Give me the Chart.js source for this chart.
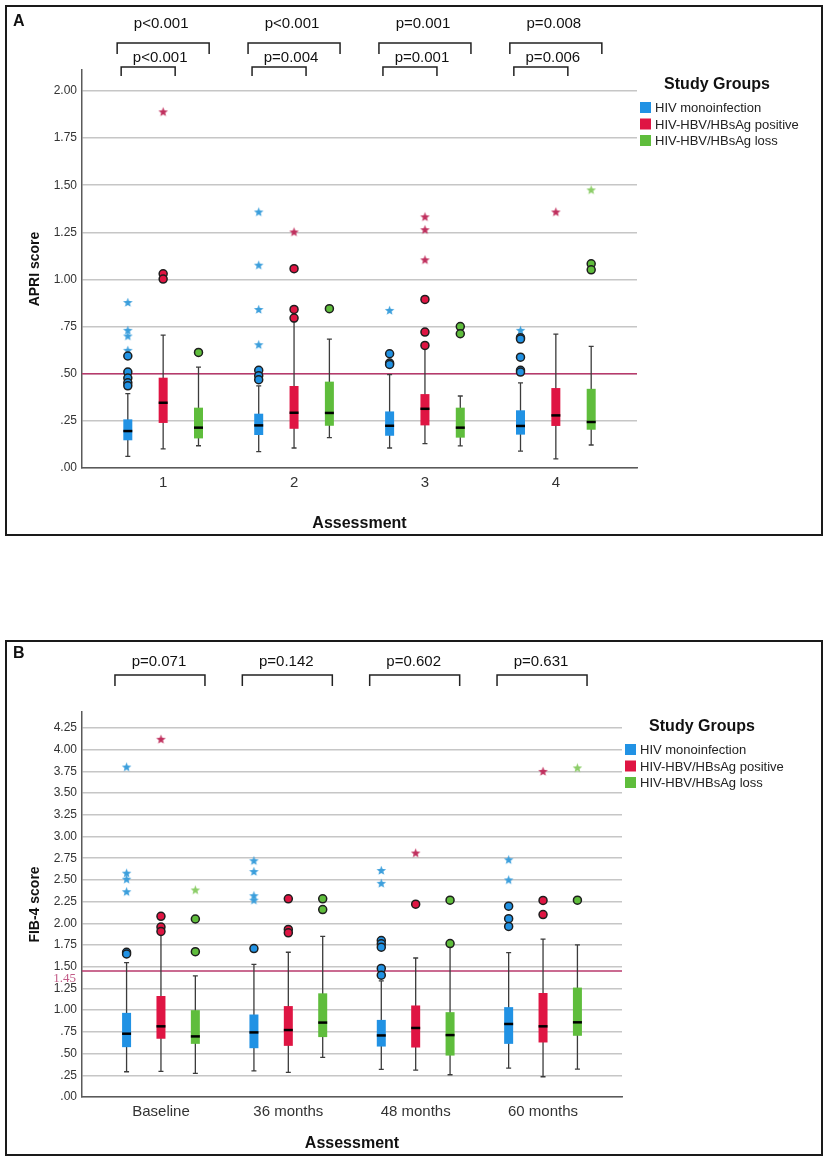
<!DOCTYPE html>
<html>
<head>
<meta charset="utf-8">
<script src="https://cdn.jsdelivr.net/npm/chart.js@4.4.1/dist/chart.umd.min.js"></script>
<style>
    body { margin: 0; background: #fff; }
    .panel { position: absolute; left: 5px; width: 818px; border: 2px solid #1a1a1a; box-sizing: border-box; background: #fff; }
    #panelA { top: 5px; height: 531px; }
    #panelB { top: 640px; height: 516px; }
    .panel .wrap { position: absolute; left: 0; top: 0; width: 814px; }
</style>
</head>
<body>
<div class="panel" id="panelA"><div class="wrap" style="height:527px"><canvas id="chartA"></canvas></div></div>
<div class="panel" id="panelB"><div class="wrap" style="height:512px"><canvas id="chartB"></canvas></div></div>

<script>
const groupNames = ['HIV monoinfection', 'HIV-HBV/HBsAg positive', 'HIV-HBV/HBsAg loss'];
const groupColors = ['#2192e4', '#df1543', '#5fbd3c'];
const starColors = ['#3c9fdc', '#c0305e', '#8ccd68'];
const groupOffset = [-0.27, 0, 0.27];

// Panel A - APRI score, [group][assessment]
const apriLabels = ['1', '2', '3', '4'];
const apriLow = [[0.062, 0.087, 0.106, 0.090], [0.101, 0.106, 0.129, 0.048], [0.118, 0.161, 0.117, 0.122]];
const apriQ1 = [[0.147, 0.175, 0.171, 0.177], [0.239, 0.208, 0.226, 0.223], [0.157, 0.224, 0.161, 0.203]];
const apriMedian = [[0.196, 0.226, 0.224, 0.223], [0.346, 0.293, 0.314, 0.279], [0.214, 0.292, 0.214, 0.244]];
const apriQ3 = [[0.258, 0.288, 0.300, 0.306], [0.479, 0.435, 0.392, 0.424], [0.320, 0.458, 0.320, 0.420]];
const apriHigh = [[0.394, 0.436, 0.495, 0.451], [0.705, 0.777, 0.633, 0.710], [0.535, 0.684, 0.382, 0.645]];
const apriCircles = [
    [[0.594, 0.509, 0.477, 0.452, 0.436], [0.518, 0.489, 0.468], [0.606, 0.557, 0.549], [0.691, 0.684, 0.588, 0.518, 0.509]],
    [[1.030, 1.002], [1.057, 0.841, 0.795], [0.894, 0.721, 0.650], []],
    [[0.613], [0.845], [0.750, 0.712], [1.083, 1.051]]
];
const apriStars = [
    [[0.878, 0.730, 0.700, 0.624], [1.358, 1.076, 0.841, 0.654], [0.836], [0.730]],
    [[1.889], [1.252], [1.332, 1.264, 1.104], [1.358]],
    [[], [], [], [1.475]]
];
const apriOuterP = ['p<0.001', 'p<0.001', 'p=0.001', 'p=0.008'];
const apriInnerP = ['p<0.001', 'p=0.004', 'p=0.001', 'p=0.006'];

// Panel B - FIB-4 score
const fibLabels = ['Baseline', '36 months', '48 months', '60 months'];
const fibLow = [[0.291, 0.302, 0.318, 0.333], [0.295, 0.283, 0.310, 0.233], [0.271, 0.457, 0.256, 0.322]];
const fibQ1 = [[0.574, 0.562, 0.581, 0.612], [0.671, 0.589, 0.570, 0.628], [0.612, 0.690, 0.477, 0.705]];
const fibMedian = [[0.729, 0.744, 0.709, 0.841], [0.814, 0.771, 0.795, 0.814], [0.698, 0.857, 0.713, 0.860]];
const fibQ3 = [[0.969, 0.950, 0.888, 1.035], [1.163, 1.047, 1.054, 1.198], [1.000, 1.194, 0.977, 1.260]];
const fibHigh = [[1.547, 1.527, 1.337, 1.663], [1.870, 1.667, 1.601, 1.818], [1.395, 1.849, 1.744, 1.752]];
const fibCircles = [
    [[1.667, 1.647], [1.709], [1.802, 1.764, 1.725, 1.481, 1.403], [2.198, 2.054, 1.965]],
    [[2.081, 1.957, 1.907], [2.283, 1.930, 1.891], [2.221], [2.264, 2.101]],
    [[2.050, 1.674], [2.283, 2.159], [2.267, 1.767], [2.267]]
];
const fibStars = [
    [[3.80, 2.578, 2.508, 2.364], [2.721, 2.597, 2.318, 2.267], [2.609, 2.461], [2.733, 2.500]],
    [[4.12], [], [2.81], [3.75]],
    [[2.384], [], [], [3.79]]
];
const fibP = ['p=0.071', 'p=0.142', 'p=0.602', 'p=0.631'];

Chart.defaults.font.family = '"Liberation Sans", Arial, sans-serif';

function fmtTick(v) {
    const s = v.toFixed(2);
    return v < 1 ? s.slice(1) : s;
}

// small filled 5-point star used as point style for extreme values
function starImage(color) {
    const c = document.createElement('canvas');
    c.width = 11;
    c.height = 11;
    const g = c.getContext('2d');
    g.fillStyle = color;
    g.beginPath();
    for (let k = 0; k < 10; k++) {
        const r = k % 2 === 0 ? 5 : 2.1;
        const a = -Math.PI / 2 + k * Math.PI / 5;
        const px = 5.5 + r * Math.cos(a);
        const py = 5.8 + r * Math.sin(a);
        if (k === 0) g.moveTo(px, py); else g.lineTo(px, py);
    }
    g.closePath();
    g.fill();
    return c;
}

function boxPlugin(p) {
    return {
        id: 'boxes' + p.letter,
        beforeDatasetsDraw(chart) {
            const { ctx, chartArea: ca, scales: { x, y } } = chart;
            ctx.save();
            // reference line
            const ry = y.getPixelForValue(p.refValue);
            ctx.strokeStyle = '#b83a6c';
            ctx.lineWidth = 1.5;
            ctx.beginPath();
            ctx.moveTo(ca.left, ry);
            ctx.lineTo(ca.right, ry);
            ctx.stroke();
            // whiskers
            ctx.strokeStyle = '#3c3c3c';
            ctx.lineWidth = 1.3;
            groupNames.forEach((n, g) => p.low[g].forEach((lo, i) => {
                const px = x.getPixelForValue(i + 1 + groupOffset[g]);
                const y1 = y.getPixelForValue(lo);
                const y2 = y.getPixelForValue(p.high[g][i]);
                ctx.beginPath();
                ctx.moveTo(px, y1); ctx.lineTo(px, y2);
                ctx.moveTo(px - 2.5, y1); ctx.lineTo(px + 2.5, y1);
                ctx.moveTo(px - 2.5, y2); ctx.lineTo(px + 2.5, y2);
                ctx.stroke();
            }));
            ctx.restore();
        },
        afterDatasetsDraw(chart) {
            const { ctx, scales: { x, y } } = chart;
            ctx.save();
            ctx.strokeStyle = '#000';
            ctx.lineWidth = 2.5;
            groupNames.forEach((n, g) => p.median[g].forEach((m, i) => {
                const px = x.getPixelForValue(i + 1 + groupOffset[g]);
                const py = y.getPixelForValue(m);
                ctx.beginPath();
                ctx.moveTo(px - 4.5, py);
                ctx.lineTo(px + 4.5, py);
                ctx.stroke();
            }));
            ctx.restore();
        },
        afterDraw(chart) {
            const { ctx, chartArea: ca, scales: { x, y } } = chart;
            ctx.save();
            // panel letter
            ctx.fillStyle = '#111';
            ctx.font = 'bold 16px "Liberation Sans", Arial';
            ctx.textAlign = 'left';
            ctx.textBaseline = 'middle';
            ctx.fillText(p.letter, 6, p.letterY);

            // p-value brackets
            ctx.strokeStyle = '#222';
            ctx.lineWidth = 1.5;
            ctx.font = '15px "Liberation Sans", Arial';
            ctx.textAlign = 'center';
            p.brackets.forEach(b => {
                b.texts.forEach((t, i) => {
                    const cx = x.getPixelForValue(i + 1);
                    ctx.fillText(t, cx + b.textDx, b.textY);
                    ctx.beginPath();
                    ctx.moveTo(cx + b.x1, b.bot);
                    ctx.lineTo(cx + b.x1, b.top);
                    ctx.lineTo(cx + b.x2, b.top);
                    ctx.lineTo(cx + b.x2, b.bot);
                    ctx.stroke();
                });
            });

            // reference label
            if (p.refLabel) {
                ctx.fillStyle = '#c25a86';
                ctx.font = '13px "Liberation Serif", serif';
                ctx.textAlign = 'right';
                ctx.fillText(p.refLabel, ca.left - 6, y.getPixelForValue(p.refValue) + 7);
            }

            // legend
            const sx = ca.right + 3;
            ctx.fillStyle = '#111';
            ctx.textAlign = 'center';
            ctx.font = 'bold 16px "Liberation Sans", Arial';
            ctx.fillText('Study Groups', sx + 77, ca.top + 15);
            ctx.textAlign = 'left';
            ctx.font = '13px "Liberation Sans", Arial';
            groupNames.forEach((n, g) => {
                const cy = ca.top + 37.5 + g * 16.5;
                ctx.fillStyle = groupColors[g];
                ctx.fillRect(sx, cy - 5.5, 11, 11);
                ctx.fillStyle = '#222';
                ctx.fillText(n, sx + 15, cy + 1);
            });
            ctx.restore();
        }
    };
}

function makeChart(id, p) {
    const datasets = [];
    groupNames.forEach((name, g) => {
        datasets.push({
            type: 'bar',
            label: name,
            data: p.q1[g].map((q1, i) => ({ x: i + 1 + groupOffset[g], y: [q1, p.q3[g][i]] })),
            backgroundColor: groupColors[g],
            borderWidth: 0,
            maxBarThickness: 9,
            grouped: false,
            order: 2
        });
    });
    groupNames.forEach((name, g) => {
        const circ = [];
        const star = [];
        p.circles[g].forEach((vals, i) => vals.forEach(v => circ.push({ x: i + 1 + groupOffset[g], y: v })));
        p.stars[g].forEach((vals, i) => vals.forEach(v => star.push({ x: i + 1 + groupOffset[g], y: v })));
        datasets.push({
            type: 'scatter', label: name + ' outliers', data: circ,
            pointStyle: 'circle', pointRadius: 4,
            pointBackgroundColor: groupColors[g], pointBorderColor: '#1e1e1e', pointBorderWidth: 1.5,
            order: 1
        });
        datasets.push({
            type: 'scatter', label: name + ' extremes', data: star,
            pointStyle: starImage(starColors[g]), pointRadius: 5,
            order: 1
        });
    });

    return new Chart(document.getElementById(id), {
        type: 'bar',
        data: { datasets: datasets },
        options: {
            responsive: true,
            maintainAspectRatio: false,
            animation: false,
            events: [],
            layout: { padding: { top: p.padTop, right: p.padRight, left: 0, bottom: 0 } },
            plugins: { legend: { display: false }, tooltip: { enabled: false } },
            scales: {
                x: {
                    type: 'linear',
                    min: 0.38,
                    max: 4.62,
                    offset: false,
                    grid: { display: false, drawTicks: false },
                    border: { display: true, color: '#5a5a5a', width: 1.5 },
                    afterBuildTicks: s => { s.ticks = p.labels.map((l, i) => ({ value: i + 1 })); },
                    afterFit: s => { s.height = p.xAxisH; },
                    ticks: {
                        font: { size: 15 }, color: '#333', padding: 6, autoSkip: false, maxRotation: 0,
                        callback: v => p.labels[Math.round(v) - 1]
                    },
                    title: {
                        display: true, text: 'Assessment', color: '#111',
                        font: { size: 16, weight: 'bold' }, padding: { top: 0, bottom: 1 }
                    }
                },
                y: {
                    min: 0,
                    max: p.yMax,
                    grid: { color: '#c6c6c6', lineWidth: 1.5, drawTicks: false },
                    border: { display: true, color: '#5a5a5a', width: 1.5 },
                    afterBuildTicks: s => {
                        s.ticks = s.ticks.filter(t => Math.abs(t.value * 4 - Math.round(t.value * 4)) < 1e-6);
                    },
                    afterFit: s => { s.width = 75; },
                    ticks: { stepSize: 0.25, font: { size: 12 }, color: '#333', padding: 5, callback: v => fmtTick(v) },
                    title: {
                        display: true, text: p.yTitle, color: '#111',
                        font: { size: 14, weight: 'bold' }, padding: { top: 20, bottom: 0 }
                    }
                }
            }
        },
        plugins: [boxPlugin(p)]
    });
}

makeChart('chartA', {
    letter: 'A', letterY: 15,
    labels: apriLabels, yTitle: 'APRI score', yMax: 2.111,
    low: apriLow, q1: apriQ1, median: apriMedian, q3: apriQ3, high: apriHigh,
    circles: apriCircles, stars: apriStars,
    refValue: 0.5,
    xAxisH: 66, padTop: 63, padRight: 184,
    brackets: [
        { texts: apriOuterP, textY: 17, top: 36, bot: 47, x1: -46, x2: 46, textDx: -2 },
        { texts: apriInnerP, textY: 51, top: 60, bot: 69, x1: -42, x2: 12, textDx: -3 }
    ]
});

makeChart('chartB', {
    letter: 'B', letterY: 12,
    labels: fibLabels, yTitle: 'FIB-4 score', yMax: 4.434,
    low: fibLow, q1: fibQ1, median: fibMedian, q3: fibQ3, high: fibHigh,
    circles: fibCircles, stars: fibStars,
    refValue: 1.45, refLabel: '1.45',
    xAxisH: 57, padTop: 70, padRight: 199,
    brackets: [
        { texts: fibP, textY: 20, top: 33, bot: 44, x1: -46, x2: 44, textDx: -2 }
    ]
});
</script>
</body>
</html>
